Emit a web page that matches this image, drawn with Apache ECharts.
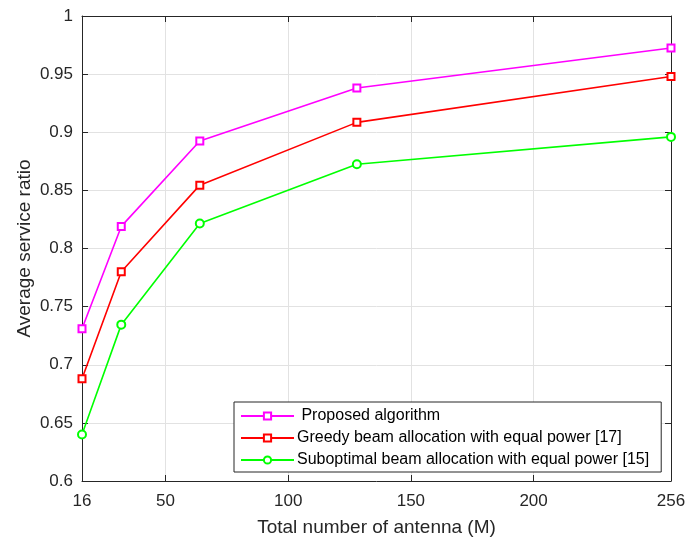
<!DOCTYPE html>
<html>
<head>
<meta charset="utf-8">
<script src="https://cdn.jsdelivr.net/npm/echarts@6/dist/echarts.min.js"></script>
<style>
html,body{margin:0;padding:0;background:#fff;}
#chart{width:686px;height:537px;}
</style>
</head>
<body>
<div id="chart"></div>
<script>
const antennas = [16, 32, 64, 128, 256];
const proposed = [0.731, 0.819, 0.8925, 0.938, 0.9725];
const greedy = [0.688, 0.780, 0.8545, 0.9085, 0.948];
const suboptimal = [0.640, 0.7345, 0.8215, 0.8725, 0.896];
const xTicks = [16, 50, 100, 150, 200, 256];
const seriesNames = [' Proposed algorithm', 'Greedy beam allocation with equal power [17]', 'Suboptimal beam allocation with equal power [15]'];
const seriesColors = ['#ff00ff', '#ff0000', '#00ff00'];
const seriesSymbols = ['emptyRect', 'emptyRect', 'emptyCircle'];
const seriesValues = [proposed, greedy, suboptimal];

const FONT = '"Liberation Sans", Arial, Helvetica, sans-serif';
const AX = '#262626';
const chart = echarts.init(document.getElementById('chart'), null, {renderer: 'canvas'});

const series = seriesValues.map((vals, i) => ({
  name: seriesNames[i],
  type: 'line',
  xAxisIndex: 0,
  yAxisIndex: 0,
  data: antennas.map((x, j) => [x, vals[j]]),
  symbol: seriesSymbols[i],
  symbolSize: seriesSymbols[i] === 'emptyCircle' ? 8 : 7,
  clip: false,
  lineStyle: {color: seriesColors[i], width: 1.6},
  itemStyle: {color: seriesColors[i], borderWidth: 1.4},
  z: 3 - i + 2
}));

const option = {
  animation: false,
  backgroundColor: '#fff',
  textStyle: {fontFamily: FONT},
  grid: {left: 82, right: 15, top: 16, bottom: 56, containLabel: false, outerBoundsMode: 'none'},
  legend: {
    orient: 'vertical',
    left: 234,
    top: 402,
    padding: [6, 12, 4, 6],
    itemWidth: 53,
    itemHeight: 9,
    itemGap: 6,
    backgroundColor: '#fff',
    borderColor: AX,
    borderWidth: 1,
    borderRadius: 0,
    textStyle: {fontFamily: FONT, fontSize: 16, lineHeight: 16, color: '#000', padding: [0, 0, 0, -2]},
    data: seriesNames
  },
  xAxis: [{
    type: 'value',
    min: 16,
    max: 256,
    name: 'Total number of antenna (M)',
    nameLocation: 'middle',
    nameGap: 37,
    nameMoveOverlap: false,
    nameTextStyle: {fontFamily: FONT, fontSize: 19, color: AX},
    axisLine: {lineStyle: {color: AX, width: 1}},
    axisTick: {inside: true, length: 6, lineStyle: {color: AX}, customValues: xTicks},
    axisLabel: {fontFamily: FONT, fontSize: 17, color: AX, margin: 12, customValues: xTicks},
    splitLine: {show: true, lineStyle: {color: '#e2e2e2', width: 1}}
  }, {
    type: 'value',
    position: 'top',
    min: 16,
    max: 256,
    axisLine: {show: true, onZero: false, lineStyle: {color: AX, width: 1}},
    axisTick: {inside: true, length: 6, lineStyle: {color: AX}, customValues: xTicks},
    axisLabel: {show: false},
    splitLine: {show: false}
  }],
  yAxis: [{
    type: 'value',
    min: 0.6,
    max: 1,
    interval: 0.05,
    name: 'Average service ratio',
    nameLocation: 'middle',
    nameGap: 48,
    nameMoveOverlap: false,
    nameTextStyle: {fontFamily: FONT, fontSize: 19, color: AX},
    axisLine: {show: true, onZero: false, lineStyle: {color: AX, width: 1}},
    axisTick: {show: true, inside: true, length: 6, lineStyle: {color: AX}},
    axisLabel: {fontFamily: FONT, fontSize: 17, color: AX, margin: 9,
      formatter: v => String(parseFloat(v.toFixed(2)))},
    splitLine: {show: true, lineStyle: {color: '#e2e2e2', width: 1}}
  }, {
    type: 'value',
    position: 'right',
    min: 0.6,
    max: 1,
    interval: 0.05,
    axisLine: {show: true, onZero: false, lineStyle: {color: AX, width: 1}},
    axisTick: {show: true, inside: true, length: 6, lineStyle: {color: AX}},
    axisLabel: {show: false},
    splitLine: {show: false}
  }],
  series: series
};
chart.setOption(option);
</script>
</body>
</html>
